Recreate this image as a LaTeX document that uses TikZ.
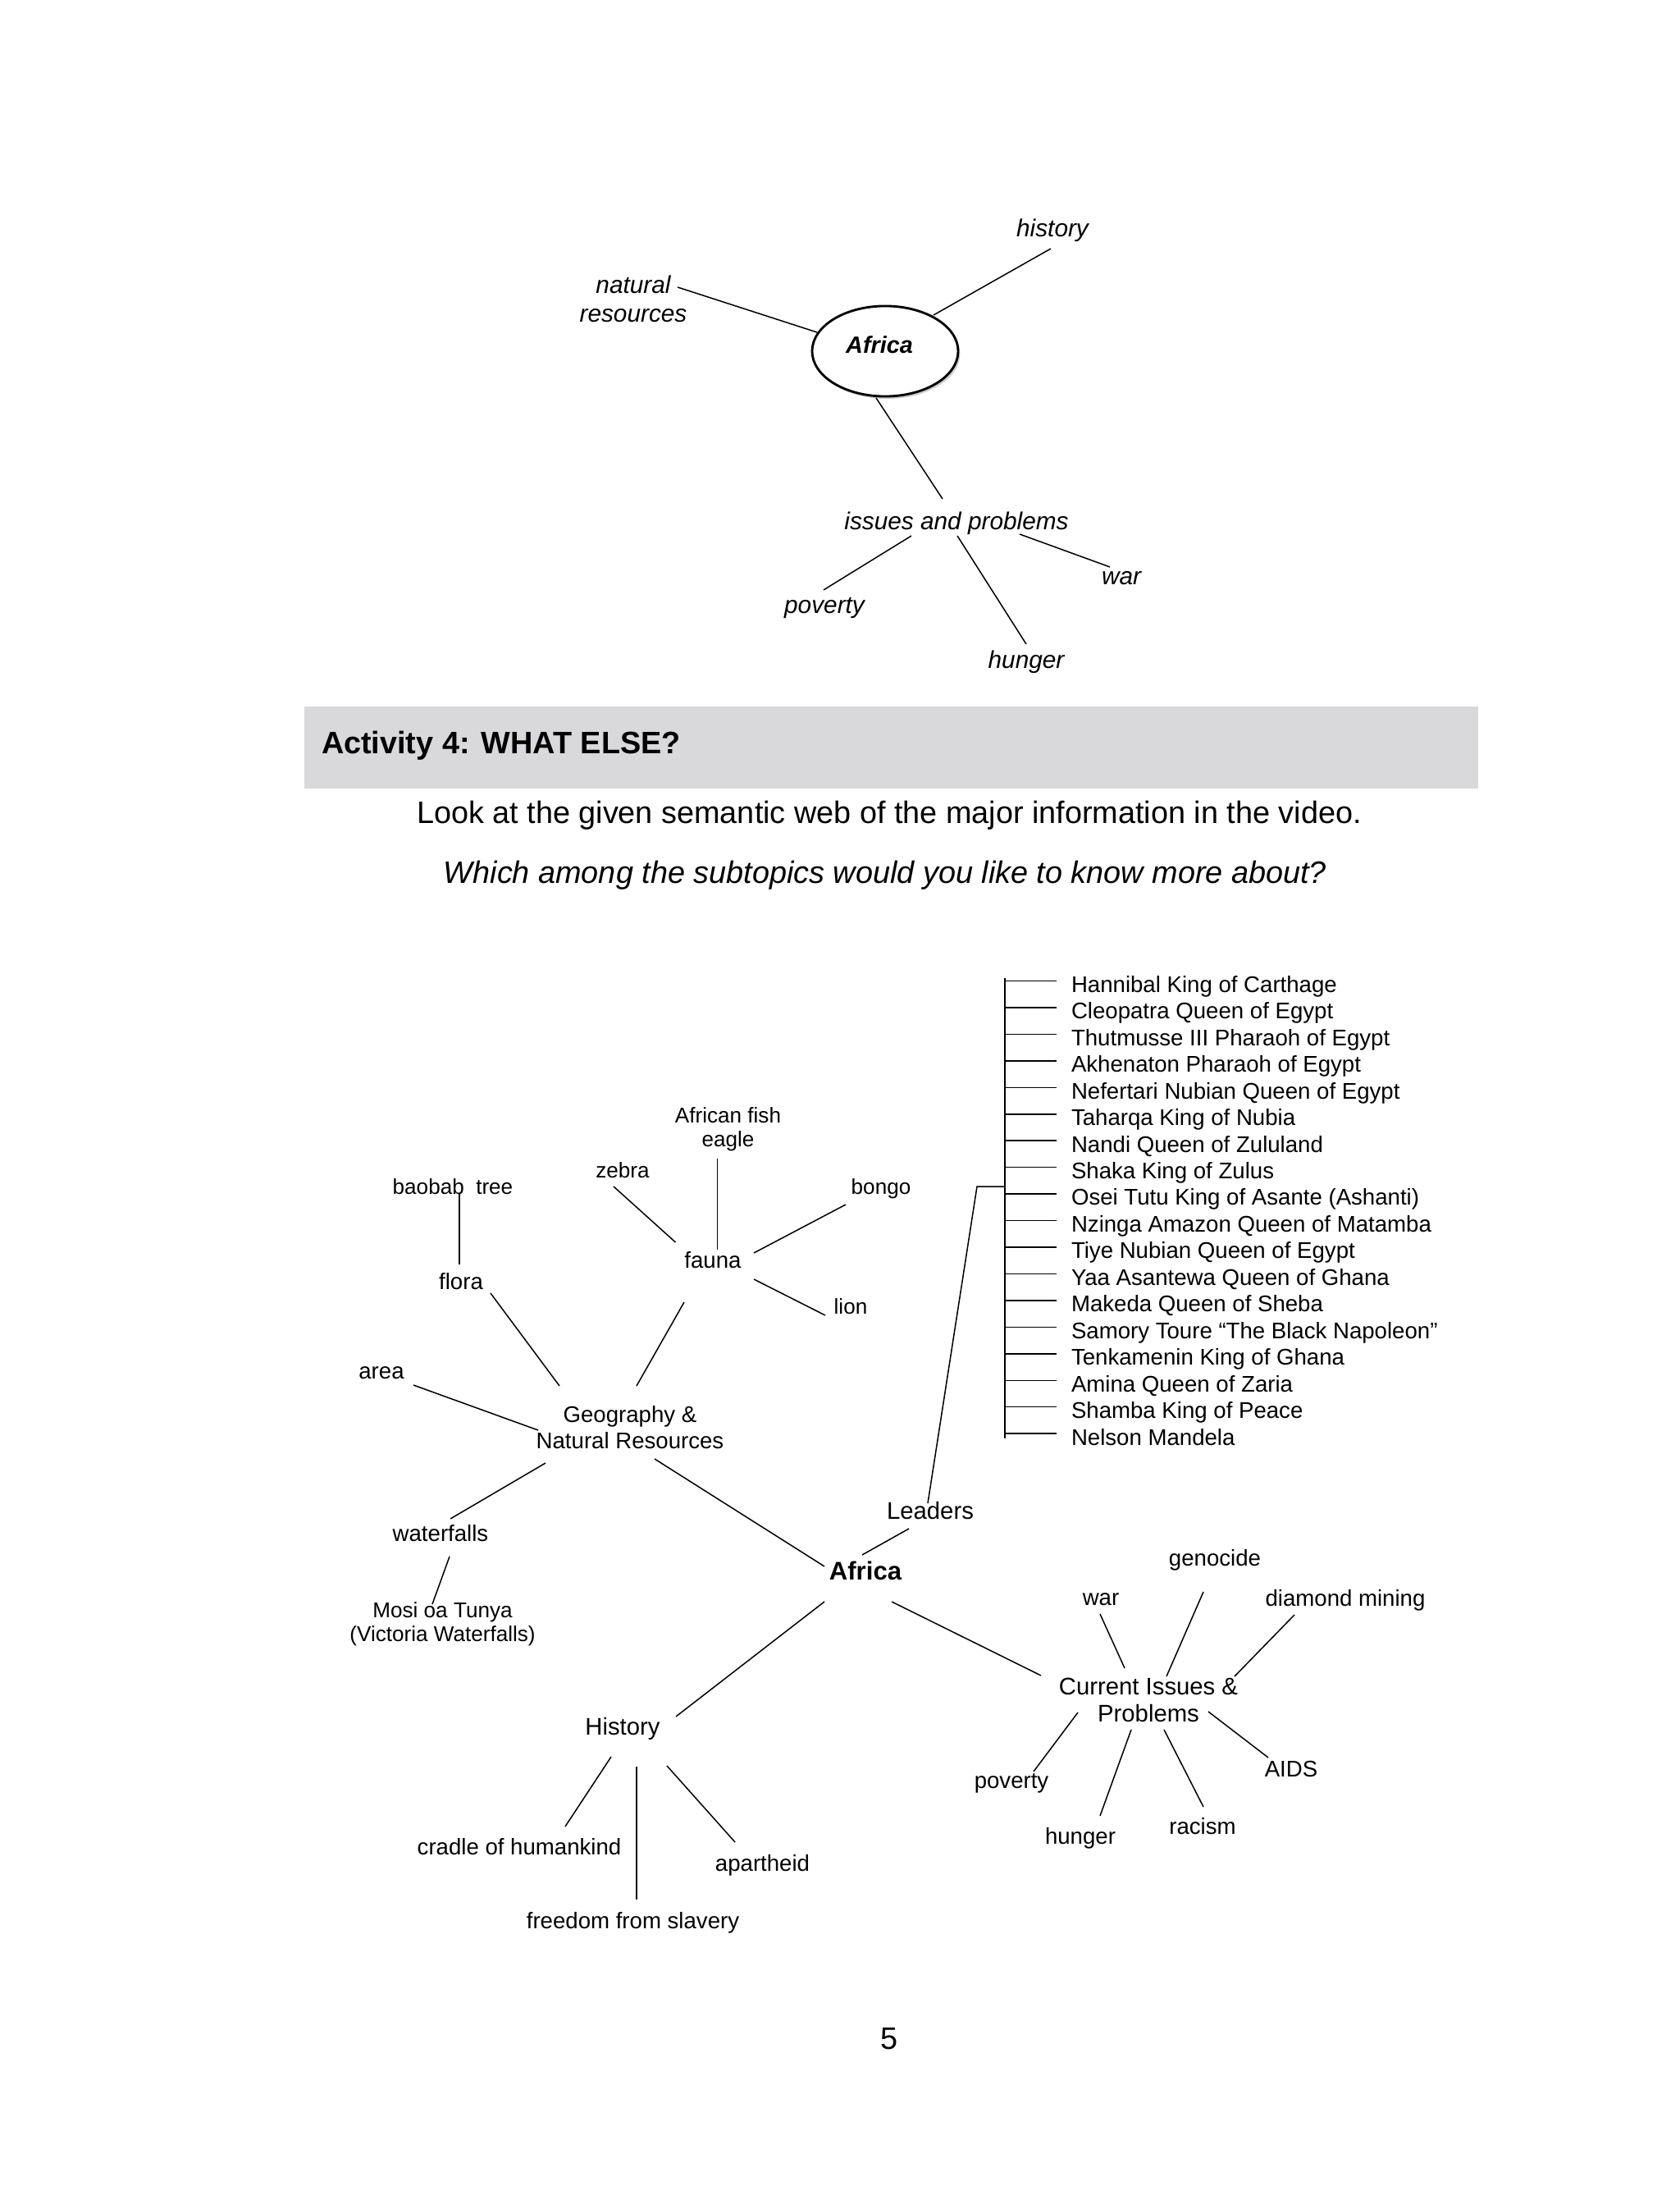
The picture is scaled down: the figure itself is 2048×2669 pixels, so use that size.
\documentclass[tikz,border=0pt]{standalone}
\usepackage{fontspec}
\setmainfont{Liberation Sans}
\usetikzlibrary{shapes.geometric,shadows}
\definecolor{boxgray}{RGB}{217,216,219}
\newcommand\myconn[4]{\draw[ln] ([shift={(#2)}]#1.center) -- ([shift={(#4)}]#3.center);}
\begin{document}
\begin{tikzpicture}[x=0.29883pt,y=-0.29883pt,
  every node/.style={inner sep=0pt,outer sep=0pt},
  ln/.style={line width=0.45pt,black},
  tI/.style={font=\itshape\fontsize{8.9}{10.5}\selectfont,text height=6.4pt,text depth=0pt},
  tIm/.style={font=\itshape\fontsize{8.9}{10.5}\selectfont,align=center},
  sL/.style={font=\fontsize{8.25}{9.6}\selectfont,text height=5.9pt,text depth=0pt},
  sLm/.style={font=\fontsize{8.25}{9.6}\selectfont,align=center},
  fL/.style={font=\fontsize{7.8}{8.7}\selectfont,text height=5.6pt,text depth=0pt},
  fLm/.style={font=\fontsize{7.8}{8.7}\selectfont,align=center},
  cL/.style={font=\fontsize{8.75}{9.9}\selectfont,text height=6.3pt,text depth=0pt},
  cLm/.style={font=\fontsize{8.75}{9.9}\selectfont,align=center},
  bL/.style={font=\bfseries\fontsize{9.3}{11}\selectfont,text height=6.7pt,text depth=0pt},
  body/.style={font=\fontsize{11.3}{13}\selectfont,text height=8.1pt,text depth=0pt},
  afrell/.style={ellipse,draw,line width=0.85pt,fill=white,minimum width=53.2pt,minimum height=32.9pt,
    drop shadow={shadow xshift=0.7pt,shadow yshift=-0.9pt,fill=black!45,opacity=0.45}},
  lead/.style={font=\fontsize{8.25}{9.6}\selectfont,text height=5.9pt,text depth=0pt,anchor=west}
]
\useasboundingbox[fill=white] (0,0) rectangle (2048,2669);

% ---------- top web ----------
\node[tI] (hist) at (1283,278) {history};
\node[tIm] (nat) at (772,364) {natural\\resources};
\node[afrell] (afr1) at (1079,428) {};
\node[font=\bfseries\itshape\fontsize{8.6}{10}\selectfont,text height=6.2pt,text depth=0pt] (afr1t) at (1072,420) {Africa};
\node[tI] (iss) at (1166,635) {issues and problems};
\node[tI] (pov1) at (1005,737) {poverty};
\node[tI] (hun1) at (1251,804) {hunger};
\node[tI] (war1) at (1367,702) {war};

\myconn{hist}{-2,25}{afr1}{59,-44}
\myconn{nat}{54,-14}{afr1}{-83,-23}
\myconn{afr1}{-11,57}{iss}{-17,-27}
\myconn{iss}{-55,18}{pov1}{-1,-18}
\myconn{iss}{1,18}{hun1}{0,-19}
\myconn{iss}{77,16}{war1}{-14,-11}

% ---------- activity header ----------
\fill[boxgray] (371,861) rectangle (1802,961);
\node[body,font=\bfseries\fontsize{11.3}{13}\selectfont,anchor=west] (act) at (392,905) {Activity 4: WHAT ELSE?};
\node[body] (look) at (1084,990) {Look at the given semantic web of the major information in the video.};
\node[body,font=\itshape\fontsize{11.3}{13}\selectfont] (which) at (1079,1063) {Which among the subtopics would you like to know more about?};

% ---------- bottom web ----------
\node[fLm] (eagle) at (887.5,1376) {African fish\\eagle};
\node[fL] (zebra) at (759,1426) {zebra};
\node[fL] (baobab) at (552,1446) {baobab\ \ tree};
\node[fL] (bongo) at (1074,1446) {bongo};
\node[sL] (fauna) at (869,1536) {fauna};
\node[sL] (flora) at (562,1562) {flora};
\node[fL] (lion) at (1037,1592) {lion};
\node[sL] (area) at (465,1671) {area};
\node[sLm] (geo) at (768,1740) {Geography \&\\Natural Resources};
\node[sL] (waterf) at (537,1869) {waterfalls};
\node[fLm] (mosi) at (539.5,1979) {Mosi oa Tunya\\(Victoria Waterfalls)};
\node[cL] (leaders) at (1134,1841) {Leaders};
\node[bL] (afr2) at (1055,1914) {Africa};
\node[sL] (war2) at (1342,1947) {war};
\node[sL] (geno) at (1481,1899) {genocide};
\node[sL] (diam) at (1640,1948) {diamond mining};
\node[cLm] (cur) at (1400,2072) {Current Issues \&\\Problems};
\node[sL] (aids) at (1574,2156) {AIDS};
\node[sL] (pov2) at (1233,2170) {poverty};
\node[sL] (hun2) at (1317,2238) {hunger};
\node[sL] (rac) at (1466,2226) {racism};
\node[cL] (hist2) at (759,2104) {History};
\node[sL] (cradle) at (633,2251) {cradle of humankind};
\node[sL] (apart) at (929.5,2271) {apartheid};
\node[sL] (free) at (771.5,2341) {freedom from slavery};

\myconn{eagle}{-13,36}{fauna}{5.5,-13}
\myconn{zebra}{-11,20}{fauna}{-45.5,-22}
\myconn{bongo}{-43,22}{fauna}{50,-9}
\myconn{fauna}{50,23}{lion}{-31,11}
\myconn{fauna}{-35,51}{geo}{8,-51}
\myconn{baobab}{8,9}{flora}{-2,-21}
\myconn{flora}{36,14}{geo}{-86,-51}
\myconn{area}{39,17}{geo}{-112,3}
\myconn{geo}{-103,43}{waterf}{12,-18}
\myconn{waterf}{11,28}{mosi}{-12.5,-24}
\myconn{geo}{30,38}{afr2}{-50,-5}
\myconn{afr2}{-4,-19}{leaders}{-26,22}
\myconn{afr2}{-50,38}{hist2}{65,-12}
\myconn{afr2}{32,38}{cur}{-131,-30}
\myconn{hist2}{-14,37}{cradle}{56,-25}
\myconn{hist2}{17,49}{free}{4.5,-26}
\myconn{hist2}{54,48}{apart}{-33.5,-26}
\myconn{cur}{-29,-39}{war2}{-1,20}
\myconn{cur}{22,-29}{geno}{-14,41}
\myconn{cur}{105,-29}{diam}{-62,20}
\myconn{cur}{73,14}{aids}{-28,-14}
\myconn{cur}{-86,15}{pov2}{27,-11}
\myconn{cur}{-21,36}{hun2}{24,-25}
\myconn{cur}{19,36}{rac}{1,-24}

% ---------- leaders list ----------
\foreach \t [count=\i] in {Hannibal King of Carthage, Cleopatra Queen of Egypt,
  Thutmusse III Pharaoh of Egypt, Akhenaton Pharaoh of Egypt, Nefertari Nubian Queen of Egypt,
  Taharqa King of Nubia, Nandi Queen of Zululand, Shaka King of Zulus,
  Osei Tutu King of Asante (Ashanti), Nzinga Amazon Queen of Matamba, Tiye Nubian Queen of Egypt,
  Yaa Asantewa Queen of Ghana, Makeda Queen of Sheba, Samory Toure “The Black Napoleon”,
  Tenkamenin King of Ghana, Amina Queen of Zaria, Shamba King of Peace, Nelson Mandela}{
  \node[lead] (l\i) at (1306,{1199.5+(\i-1)*32.45}) {\t};
  \draw[ln] (l\i.west) ++(-18,-4) -- ++(-63,0);
}
\draw[ln] (l1.west) ++(-81,-8) -- ([shift={(-81,2)}]l18.west);
\coordinate (brk) at (1225,1446);
\draw[ln] ([shift={(-3,-9)}]leaders.center) -- ([shift={(-34,0)}]brk) -- (brk);

\node[body] (pg) at (1084,2484) {5};
\end{tikzpicture}
\end{document}
